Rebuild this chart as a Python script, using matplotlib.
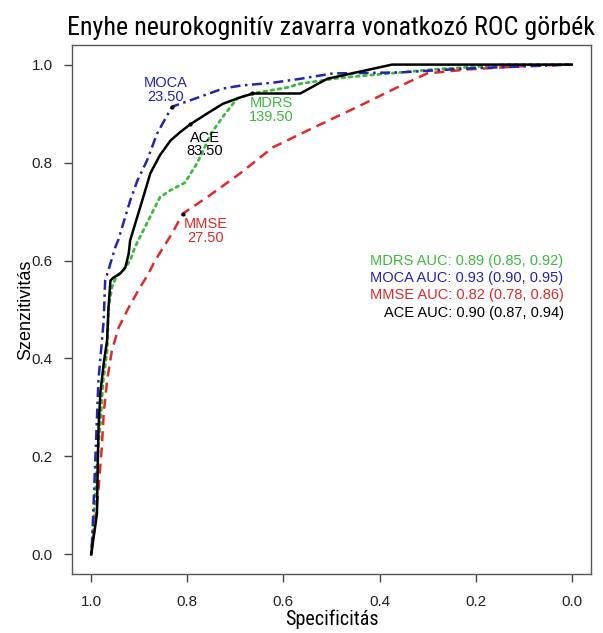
import matplotlib
matplotlib.use("Agg")
import matplotlib.pyplot as plt
from matplotlib import font_manager

# ROC curves (specificity, sensitivity)
moca_spec = [1.0, 0.998, 0.985, 0.974, 0.971, 0.96, 0.95, 0.944, 0.919, 0.904, 0.884, 0.863, 0.832,
             0.794, 0.726, 0.69, 0.622, 0.565, 0.497, 0.358, 0.218, 0.0]
moca_sens = [0.0, 0.03, 0.355, 0.478, 0.559, 0.594, 0.627, 0.641, 0.722, 0.763, 0.804, 0.859, 0.914,
             0.927, 0.951, 0.957, 0.963, 0.971, 0.982, 0.984, 0.992, 1.0]

ace_spec = [1.0, 0.995, 0.992, 0.988, 0.987, 0.985, 0.981, 0.974, 0.967, 0.964, 0.96, 0.954, 0.94,
            0.929, 0.922, 0.919, 0.894, 0.877, 0.857, 0.835, 0.815, 0.794, 0.759, 0.726, 0.69, 0.663,
            0.565, 0.509, 0.374, 0.0]
ace_sens = [0.0, 0.035, 0.055, 0.084, 0.151, 0.253, 0.33, 0.39, 0.437, 0.504, 0.559, 0.565, 0.573,
            0.586, 0.614, 0.641, 0.722, 0.778, 0.815, 0.845, 0.862, 0.878, 0.9, 0.92, 0.933, 0.941,
            0.941, 0.971, 1.0, 1.0]

mdrs_spec = [1.0, 0.992, 0.988, 0.981, 0.975, 0.967, 0.964, 0.957, 0.947, 0.933, 0.919, 0.909, 0.902,
             0.857, 0.836, 0.805, 0.78, 0.75, 0.725, 0.696, 0.665, 0.593, 0.565, 0.482, 0.289, 0.135, 0.0]
mdrs_sens = [0.0, 0.116, 0.186, 0.267, 0.355, 0.416, 0.504, 0.545, 0.569, 0.58, 0.6, 0.627, 0.641,
             0.729, 0.743, 0.759, 0.798, 0.86, 0.895, 0.931, 0.941, 0.953, 0.961, 0.973, 0.99, 1.0, 1.0]

mmse_spec = [1.0, 0.992, 0.985, 0.978, 0.974, 0.967, 0.957, 0.943, 0.922, 0.902, 0.881, 0.867, 0.832,
             0.809, 0.759, 0.69, 0.622, 0.538, 0.441, 0.364, 0.301, 0.218, 0.081, 0.0]
mmse_sens = [0.0, 0.063, 0.131, 0.218, 0.288, 0.355, 0.416, 0.463, 0.504, 0.539, 0.573, 0.6, 0.655,
             0.696, 0.729, 0.778, 0.831, 0.871, 0.916, 0.953, 0.982, 0.99, 0.998, 1.0]

# best thresholds
names = ['MOCA', 'MDRS', 'ACE', 'MMSE']
thresholds = ['23.50', '139.50', '83.50', '27.50']
thr_spec = [0.832, 0.665, 0.794, 0.809]
thr_sens = [0.914, 0.941, 0.878, 0.696]

auc_labels = ['MDRS AUC: 0.89 (0.85, 0.92)', 'MOCA AUC: 0.93 (0.90, 0.95)',
              'MMSE AUC: 0.82 (0.78, 0.86)', 'ACE AUC: 0.90 (0.87, 0.94)']

col = {'MOCA': '#2424b4', 'MDRS': '#3cba3c', 'ACE': 'black', 'MMSE': '#e02a2a'}

plt.rcParams['font.family'] = ['Liberation Sans', 'DejaVu Sans']


# look for a narrow font for title / x label (R used Arial Narrow here)
def find_narrow():
    ents = font_manager.fontManager.ttflist
    for key in ['Liberation Sans Narrow', 'Roboto Condensed', 'Open Sans Condensed']:
        for e in ents:
            if e.name == key and e.style == 'normal' and e.weight in (400, 'normal', 'regular'):
                return font_manager.FontProperties(fname=e.fname)
    for e in ents:
        if 'condensed' in str(e.stretch) and e.style == 'normal' \
                and e.weight in (400, 'normal', 'regular') and 'Sans' in e.name and 'Mono' not in e.name:
            return font_manager.FontProperties(fname=e.fname)
    for e in ents:
        if ('Narrow' in e.name or 'Condensed' in e.name) and e.style == 'normal':
            return font_manager.FontProperties(fname=e.fname)
    return None


narrow = find_narrow()
if narrow is None:
    narrow = font_manager.FontProperties(family='Liberation Sans')
    title_size, lab_size = 15, 12.5
else:
    title_size, lab_size = 18.7, 14.5

fig = plt.figure(figsize=(6.03, 6.33), dpi=100)
ax = fig.add_axes([0.1194, 0.0932, 0.8606, 0.8357])

ax.plot(mdrs_spec, mdrs_sens, color=col['MDRS'], lw=2, dashes=(1, 1.6), dash_capstyle='round')
ax.plot(mmse_spec, mmse_sens, color=col['MMSE'], lw=1.8, dashes=(4, 2.5))
ax.plot(moca_spec, moca_sens, color=col['MOCA'], lw=1.8, dashes=(1, 1.8, 4, 1.8))
ax.plot(ace_spec, ace_sens, color=col['ACE'], lw=1.8)

ax.scatter(thr_spec, thr_sens, s=4, color='black', zorder=5)

# threshold labels
lab_pos = {'MOCA': (0.846, 0.948), 'MDRS': (0.626, 0.907), 'ACE': (0.763, 0.837), 'MMSE': (0.761, 0.660)}
for n, t in zip(names, thresholds):
    x, y = lab_pos[n]
    ax.text(x, y, n + '\n' + t, color=col[n], fontsize=10.5, ha='center', va='center',
            linespacing=0.95)

auc_cols = [col['MDRS'], col['MOCA'], col['MMSE'], col['ACE']]
for i, (s, c) in enumerate(zip(auc_labels, auc_cols)):
    ax.text(0.017, 0.6 - 0.0355 * i, s, color=c, fontsize=10.5, ha='right', va='center')

ax.set_xlim(1.04, -0.04)
ax.set_ylim(-0.04, 1.04)
ticks = [0.0, 0.2, 0.4, 0.6, 0.8, 1.0]
ax.set_xticks(ticks)
ax.set_yticks(ticks)
ax.set_xticklabels(['%.1f' % t for t in ticks])
ax.set_yticklabels(['%.1f' % t for t in ticks])
ax.tick_params(direction='out', length=5.8, width=1, color='#444444', labelsize=11,
               labelcolor='#222222')
ax.tick_params(axis='x', pad=9.5)
ax.tick_params(axis='y', pad=8)
for sp in ax.spines.values():
    sp.set_color('#555555')
    sp.set_linewidth(1)

ax.set_xlabel('Specificitás', fontproperties=narrow, fontsize=lab_size, labelpad=0)
ax.set_ylabel('Szenzitivitás', fontsize=13, labelpad=-1.5)
ax.set_title('Enyhe neurokognitív zavarra vonatkozó ROC görbék', fontproperties=narrow,
             fontsize=title_size, pad=7)

fig.savefig('out.png', dpi=100)
